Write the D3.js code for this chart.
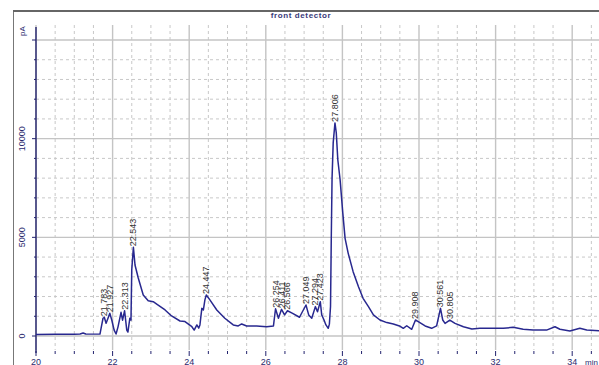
<!DOCTYPE html>
<html>
<head>
<meta charset="utf-8">
<script src="https://cdn.jsdelivr.net/npm/d3@7"></script>
<style>
  body { margin: 0; background: #fff; }
  svg { display: block; font-family: Arial, "Liberation Sans", sans-serif; }
</style>
</head>
<body>
<svg id="chart" width="599" height="365"></svg>
<script>
// retention time (min) and detector signal (pA)
const rt = [20.00, 20.50, 21.00, 21.15, 21.23, 21.30, 21.50, 21.67, 21.71, 21.75, 21.783, 21.83, 21.88, 21.927, 21.98, 22.04, 22.09, 22.14,
  22.22, 22.26, 22.313, 22.37, 22.40, 22.45, 22.48, 22.50, 22.543, 22.585, 22.67, 22.80, 22.93, 23.06, 23.19, 23.37, 23.54, 23.76,
  23.89, 24.07, 24.13, 24.20, 24.25, 24.28, 24.33, 24.37, 24.41, 24.447, 24.54, 24.72, 24.93, 25.15, 25.28, 25.37, 25.50, 25.76,
  26.02, 26.20, 26.254, 26.33, 26.411, 26.49, 26.566, 26.70, 26.88, 27.049, 27.12, 27.20, 27.294, 27.35, 27.423, 27.46, 27.52,
  27.57, 27.63, 27.66, 27.69, 27.71, 27.73, 27.76, 27.806, 27.84, 27.88, 27.94, 28.01, 28.07, 28.15, 28.28, 28.42, 28.54, 28.68,
  28.81, 28.98, 29.16, 29.33, 29.49, 29.59, 29.68, 29.81, 29.908, 29.98, 30.16, 30.33, 30.46, 30.561, 30.62, 30.68, 30.805, 30.94,
  31.16, 31.38, 31.59, 31.94, 32.20, 32.46, 32.72, 32.98, 33.33, 33.55, 33.68, 33.94, 34.20, 34.38, 34.70];
const signal = [80, 85, 90, 100, 150, 100, 95, 100, 500, 900, 950, 650, 900, 1150, 800, 300, 100, 450,
  1200, 800, 1280, 300, 200, 900, 800, 3350, 4500, 3600, 2940, 2080, 1790, 1740, 1570, 1320, 1015, 760,
  730, 470, 300, 560, 400, 560, 1400, 1320, 1830, 2080, 1830, 1320, 900, 560, 510, 610, 510, 510,
  470, 510, 1380, 900, 1350, 1070, 1280, 1150, 950, 1570, 1070, 900, 1490, 1230, 1740, 1070, 810,
  560, 390, 600, 1500, 5000, 8000, 9800, 10800, 10300, 8930, 7920, 6240, 4950, 4200, 3260, 2500, 1910, 1490,
  1070, 810, 680, 610, 510, 390, 520, 340, 810, 730, 510, 390, 510, 1400, 810, 640, 810, 640,
  470, 355, 390, 390, 390, 440, 340, 300, 300, 470, 340, 250, 390, 300, 270];

// integrated peaks
const peakTimes = [21.783, 21.927, 22.313, 22.543, 24.447, 26.254, 26.411, 26.566, 27.049, 27.294, 27.423, 27.806, 29.908, 30.561, 30.805];

const yTicks = [0, 5000, 10000];
const xTicks = [20, 22, 24, 26, 28, 30, 32, 34];

const svg = d3.select("#chart");
const W = 599, H = 365;
const axisX = 36, axisTop = 27, axisBottom = 353;

const x = d3.scaleLinear().domain([20, 34.7]).range([axisX, axisX + 14.7 * 38.3]);
const y = d3.scaleLinear().domain([0, 15000]).range([336, 40]);

// outer frame
svg.append("rect").attr("x", 13.5).attr("y", 11.5).attr("width", W).attr("height", H)
  .attr("fill", "none").attr("stroke", "#777").attr("stroke-width", 1);
svg.append("line").attr("x1", 13).attr("x2", W).attr("y1", 11).attr("y2", 11)
  .attr("stroke", "#666").attr("stroke-width", 2);

svg.append("text").attr("x", 301).attr("y", 18).attr("text-anchor", "middle")
  .attr("font-size", 8).attr("font-weight", "bold").attr("letter-spacing", 0.6)
  .attr("fill", "#3a3a7a").text("front detector");

// grid
const grid = svg.append("g");
d3.range(20, 34.75, 0.5).forEach(t => {
  const major = Math.abs(t % 2) < 1e-6;
  grid.append("line").attr("x1", x(t)).attr("x2", x(t)).attr("y1", 25).attr("y2", 350)
    .attr("stroke", major ? "#c4c4c4" : "#c8c8c8")
    .attr("stroke-width", major ? 1.4 : 1)
    .attr("stroke-dasharray", major ? null : "3,3");
});
d3.range(0, 15001, 1000).forEach(v => {
  const major = v % 5000 === 0;
  grid.append("line").attr("x1", axisX).attr("x2", W).attr("y1", y(v)).attr("y2", y(v))
    .attr("stroke", major ? "#c4c4c4" : "#c8c8c8")
    .attr("stroke-width", major ? 1.4 : 1)
    .attr("stroke-dasharray", major ? null : "3,3");
});

// y axis
const yAxis = svg.append("g").attr("transform", `translate(${axisX},0)`);
yAxis.append("line").attr("y1", axisTop).attr("y2", axisBottom).attr("stroke", "#23236e").attr("stroke-width", 1.4);
yAxis.selectAll("line.tick").data(d3.range(0, 15001, 1000)).enter().append("line")
  .attr("class", "tick")
  .attr("x1", d => d % 5000 === 0 ? -4 : -2).attr("x2", 0)
  .attr("y1", d => y(d)).attr("y2", d => y(d))
  .attr("stroke", "#23236e");
yAxis.selectAll("text").data(yTicks).enter().append("text")
  .attr("transform", d => `translate(-11.5,${y(d)}) rotate(-90)`)
  .attr("text-anchor", "middle").attr("font-size", 9).attr("fill", "#2a2a6e")
  .text(d => d);
svg.append("text").attr("transform", "translate(25,31) rotate(-90)")
  .attr("text-anchor", "middle").attr("font-size", 8).attr("fill", "#2a2a6e").text("pA");

// x axis ticks and labels
const xAxis = svg.append("g");
xAxis.selectAll("line").data(d3.range(20, 34.75, 0.5)).enter().append("line")
  .attr("x1", d => x(d)).attr("x2", d => x(d))
  .attr("y1", 351).attr("y2", d => Math.abs(d % 2) < 1e-6 ? 356 : 354)
  .attr("stroke", "#23236e");
xAxis.selectAll("text").data(xTicks).enter().append("text")
  .attr("x", d => x(d)).attr("y", 364.5).attr("text-anchor", "middle")
  .attr("font-size", 9).attr("fill", "#2a2a6e").text(d => d);
xAxis.append("text").attr("x", 598).attr("y", 364.5).attr("text-anchor", "end")
  .attr("font-size", 8).attr("fill", "#2a2a6e").text("min");

// trace
const pts = rt.map((t, i) => [t, signal[i]]);
svg.append("path").datum(pts)
  .attr("fill", "none").attr("stroke", "#28288f").attr("stroke-width", 1.5)
  .attr("stroke-linejoin", "round")
  .attr("d", d3.line().x(d => x(d[0])).y(d => y(d[1])));

// peak labels
const apex = t => {
  let best = 0;
  rt.forEach((r, i) => { if (Math.abs(r - t) < 0.03) best = Math.max(best, signal[i]); });
  return best;
};
svg.append("g").selectAll("text").data(peakTimes).enter().append("text")
  .attr("transform", d => `translate(${x(d) + 3},${y(apex(d)) - 1}) rotate(-90)`)
  .attr("font-size", 9).attr("fill", "#333").text(d => d.toFixed(3));
</script>
</body>
</html>
